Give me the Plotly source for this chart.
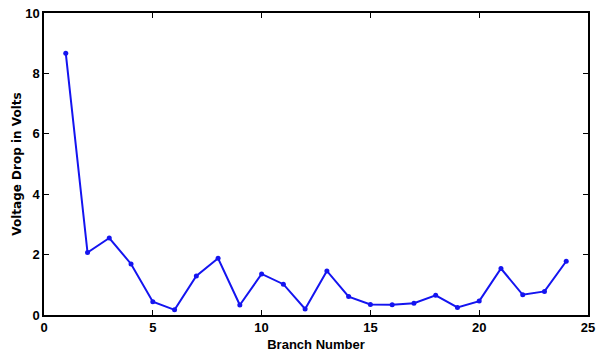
import plotly.graph_objects as go

branch = list(range(1, 25))
voltage_drop = [8.67, 2.07, 2.55, 1.69, 0.44, 0.17, 1.29, 1.88, 0.33, 1.36, 1.02, 0.20,
                1.46, 0.61, 0.35, 0.34, 0.39, 0.65, 0.25, 0.46, 1.54, 0.67, 0.78, 1.78]
x_ticks = [0, 5, 10, 15, 20, 25]
y_ticks = [0, 2, 4, 6, 8, 10]

FONT = "Liberation Sans Narrow, Liberation Sans, Arial, sans-serif"

fig = go.Figure()
fig.add_trace(go.Scatter(
    x=branch, y=voltage_drop, mode="lines+markers",
    line=dict(color="#1414f0", width=2),
    marker=dict(color="#1414f0", size=5),
    showlegend=False,
))

axis_common = dict(
    showline=True, linecolor="black", linewidth=1.5, mirror="ticks",
    ticks="inside", ticklen=5, tickwidth=1, tickcolor="black",
    showgrid=False, zeroline=False, automargin=False,
    ticklabeloverflow="allow",
    tickfont=dict(family=FONT, size=13, color="black", weight="bold"),
)

fig.update_xaxes(range=[0, 25], tickvals=x_ticks,
                 title=dict(text="Branch Number", standoff=6,
                            font=dict(family=FONT, size=13, color="black", weight="bold")),
                 **axis_common)
fig.update_yaxes(range=[0, 10], tickvals=y_ticks,
                 title=dict(text="Voltage Drop in Volts", standoff=1,
                            font=dict(family="DejaVu Sans, sans-serif", size=12, color="black", weight="bold")),
                 **axis_common)

fig.update_layout(
    width=601, height=354,
    margin=dict(l=44, r=13, t=13, b=39),
    paper_bgcolor="white", plot_bgcolor="white",
)

fig.write_html(
    "out.html",
    config={"displayModeBar": False},
    post_script="document.body.style.margin='0';document.body.style.overflow='hidden';",
)
